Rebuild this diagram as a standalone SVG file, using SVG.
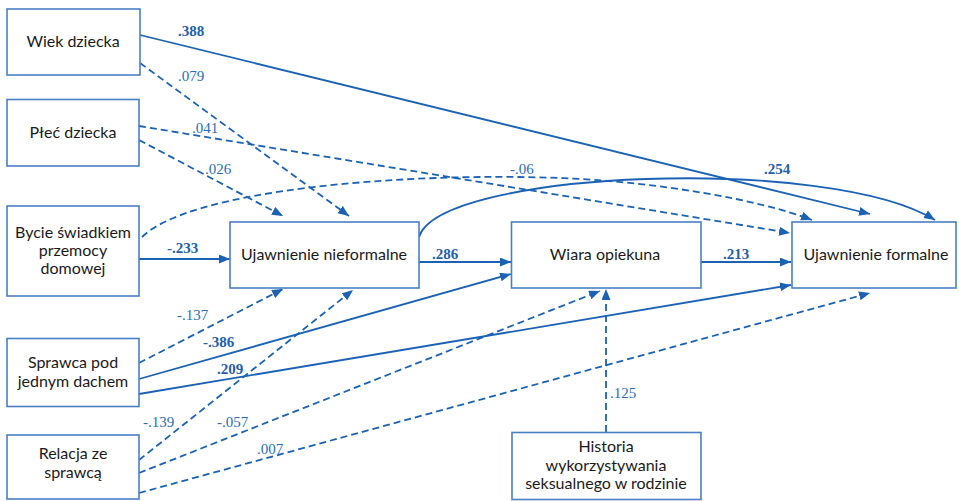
<svg xmlns="http://www.w3.org/2000/svg" width="959" height="501" viewBox="0 0 959 501">
<style>
.box{fill:#ffffff;stroke:#4a7fc4;stroke-width:1.6}
.t{font-family:Lato,"Liberation Sans",sans-serif;font-size:16px;fill:#1a1a1a;text-anchor:middle}
.c{fill:none;stroke:#1b62b5;stroke-width:1.8}
.d{stroke-dasharray:7 4}
.l{font-family:"Liberation Serif","Times New Roman",serif;font-size:15px;fill:#2a6db9}
.b{font-weight:bold;fill:#1f5fae}
</style>
<defs>
<marker id="ah" markerUnits="userSpaceOnUse" markerWidth="12" markerHeight="10" refX="11" refY="4.5" orient="auto">
<path d="M0,0 L11,4.5 L0,9 Z" fill="#1b62b5"/>
</marker>
</defs>
<rect width="959" height="501" fill="#ffffff"/>
<g id="connectors">
<path class="c" d="M140,35 L870,214" marker-end="url(#ah)"/>
<path class="c d" d="M140,63 L349,216" marker-end="url(#ah)"/>
<path class="c d" d="M139,126 L790,233" marker-end="url(#ah)"/>
<path class="c d" d="M139,140 L283,216" marker-end="url(#ah)"/>
<path class="c d" d="M142,237 C190,190 400,172 560,178 C660,182 760,200 812,220" marker-end="url(#ah)"/>
<path class="c" d="M139,259 L230,259" marker-end="url(#ah)"/>
<path class="c" d="M419,237 C440,170 830,155 935,220" marker-end="url(#ah)"/>
<path class="c" d="M419,262 L511,262" marker-end="url(#ah)"/>
<path class="c" d="M701,262 L791,262" marker-end="url(#ah)"/>
<path class="c d" d="M139,363 L283,289" marker-end="url(#ah)"/>
<path class="c" d="M139,379 L511,274" marker-end="url(#ah)"/>
<path class="c" d="M139,394 L791,285" marker-end="url(#ah)"/>
<path class="c d" d="M139,460 L353,290" marker-end="url(#ah)"/>
<path class="c d" d="M139,473 L600,291" marker-end="url(#ah)"/>
<path class="c d" d="M139,493 L870,293" marker-end="url(#ah)"/>
<path class="c d" d="M606,432 L606,289" marker-end="url(#ah)"/>
<text class="l b" x="178" y="36">.388</text>
<text class="l" x="178" y="81">.079</text>
<text class="l" x="192" y="133">.041</text>
<text class="l" x="205" y="174">.026</text>
<text class="l" x="510" y="174">-.06</text>
<text class="l b" x="167" y="253">-.233</text>
<text class="l b" x="764" y="174">.254</text>
<text class="l b" x="432" y="259">.286</text>
<text class="l b" x="723" y="259">.213</text>
<text class="l" x="177" y="320">-.137</text>
<text class="l b" x="203" y="347">-.386</text>
<text class="l b" x="217" y="374">.209</text>
<text class="l" x="143" y="427">-.139</text>
<text class="l" x="217" y="427">-.057</text>
<text class="l" x="257" y="454">.007</text>
<text class="l" x="610" y="398">.125</text>
</g>
<g id="n-wiek">
<rect class="box" x="7" y="9" width="133" height="66"/>
<text class="t" x="73" y="47">Wiek dziecka</text>
</g>
<g id="n-plec">
<rect class="box" x="7" y="99.5" width="132" height="66.5"/>
<text class="t" x="73" y="138">Płeć dziecka</text>
</g>
<g id="n-bycie">
<rect class="box" x="7" y="206" width="132" height="90"/>
<text class="t" x="73" y="238">Bycie świadkiem</text>
<text class="t" x="73" y="256">przemocy</text>
<text class="t" x="73" y="274">domowej</text>
</g>
<g id="n-nieformalne">
<rect class="box" x="230" y="222" width="189" height="66"/>
<text class="t" x="324" y="260">Ujawnienie nieformalne</text>
</g>
<g id="n-wiara">
<rect class="box" x="511.5" y="222" width="189.5" height="66"/>
<text class="t" x="605" y="260">Wiara opiekuna</text>
</g>
<g id="n-formalne">
<rect class="box" x="792" y="222" width="164" height="66"/>
<text class="t" x="876" y="260">Ujawnienie formalne</text>
</g>
<g id="n-sprawca">
<rect class="box" x="7" y="338.5" width="132" height="68"/>
<text class="t" x="73" y="368">Sprawca pod</text>
<text class="t" x="73" y="387">jednym dachem</text>
</g>
<g id="n-relacja">
<rect class="box" x="7" y="435" width="132" height="64"/>
<text class="t" x="73" y="459">Relacja ze</text>
<text class="t" x="73" y="478">sprawcą</text>
</g>
<g id="n-historia">
<rect class="box" x="512" y="432.5" width="189" height="67"/>
<text class="t" x="606" y="452">Historia</text>
<text class="t" x="606" y="471">wykorzystywania</text>
<text class="t" x="606" y="489">seksualnego w rodzinie</text>
</g>
</svg>
